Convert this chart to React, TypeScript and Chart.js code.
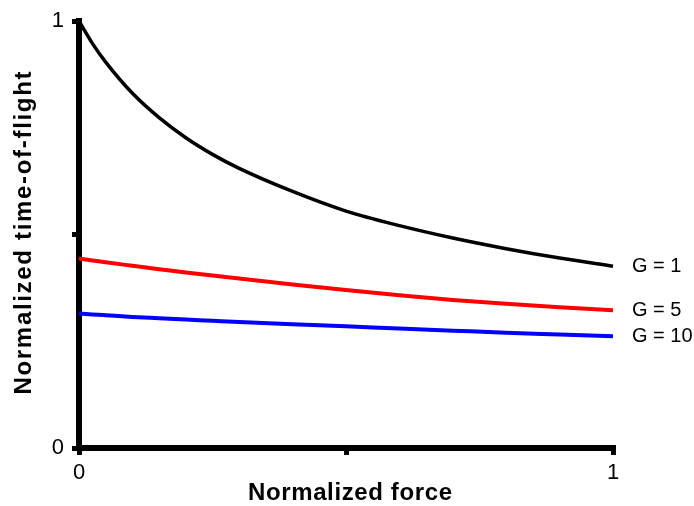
import React, { useEffect, useRef } from "react";
import { Chart, registerables } from "chart.js";

Chart.register(...registerables);

const xValues = [0, 0.025, 0.05, 0.1, 0.15, 0.2, 0.25, 0.3, 0.4, 0.5, 0.6, 0.7, 0.8, 0.9, 1.0];
const g1Values = [1.0, 0.948, 0.904, 0.831, 0.774, 0.727, 0.688, 0.655, 0.601, 0.555, 0.521, 0.492, 0.467, 0.445, 0.426];
const g5Values = [0.444, 0.4395, 0.435, 0.427, 0.419, 0.411, 0.404, 0.397, 0.383, 0.37, 0.358, 0.347, 0.338, 0.33, 0.323];
const g10Values = [0.315, 0.313, 0.311, 0.307, 0.304, 0.301, 0.298, 0.295, 0.29, 0.285, 0.28, 0.275, 0.27, 0.266, 0.262];
const seriesLabels = ["G = 1", "G = 5", "G = 10"];
const seriesColors = ["#000000", "#ff0000", "#0000ff"];
const tickLabels: Record<string, string> = { "0": "0", "1": "1" };
const xTitle = "Normalized force";
const yTitle = "Normalized time-of-flight";

const toPoints = (ys: number[]) => ys.map((y, i) => ({ x: xValues[i], y }));

const labelPlugin = {
  id: "labelPlugin",
  afterDraw(chart: any) {
    const ctx = chart.ctx;
    ctx.save();
    ctx.fillStyle = "#000";
    ctx.font = "20px Arial, 'Liberation Sans', sans-serif";
    ctx.textBaseline = "middle";
    ctx.textAlign = "left";
    chart.data.datasets.forEach((ds: any, i: number) => {
      const meta = chart.getDatasetMeta(i);
      const pt = meta.data[meta.data.length - 1];
      ctx.fillText(ds.label, pt.x + 19, pt.y);
    });

    const drawSpaced = (text: string, cx: number, cy: number, target: number, rot: number) => {
      ctx.save();
      ctx.font = "bold 24px Arial, 'Liberation Sans', sans-serif";
      (ctx as any).letterSpacing = "0px";
      const natural = ctx.measureText(text).width;
      const sp = Math.max(0, (target - natural) / (text.length - 1));
      (ctx as any).letterSpacing = sp + "px";
      ctx.translate(cx, cy);
      ctx.rotate(rot);
      ctx.textAlign = "left";
      ctx.textBaseline = "middle";
      ctx.fillText(text, -target / 2, 0);
      ctx.restore();
    };
    drawSpaced(xTitle, 350, 493, 204, 0);
    drawSpaced(yTitle, 24, 233, 323, -Math.PI / 2);
    ctx.restore();
  },
};

export default function App() {
  const ref = useRef<HTMLCanvasElement>(null);
  useEffect(() => {
    if (!ref.current) return;
    const font = { family: "Arial, 'Liberation Sans', sans-serif", size: 22 };
    const chart = new Chart(ref.current, {
      type: "line",
      data: {
        datasets: [g1Values, g5Values, g10Values].map((vals, i) => ({
          label: seriesLabels[i],
          data: toPoints(vals),
          borderColor: seriesColors[i],
          backgroundColor: seriesColors[i],
          borderWidth: i === 0 ? 3.5 : 4,
          pointRadius: 0,
          cubicInterpolationMode: "monotone" as const,
          fill: false,
          clip: false as any,
        })),
      },
      options: {
        responsive: false,
        animation: false,
        devicePixelRatio: 1,
        layout: { padding: { left: 0, top: 19, right: 81, bottom: 0 } },
        plugins: { legend: { display: false }, tooltip: { enabled: false } },
        scales: {
          x: {
            type: "linear",
            min: 0,
            max: 1,
            afterFit: (s: any) => { s.height = 58; },
            border: { color: "#000", width: 6 },
            grid: { drawOnChartArea: false, color: "#000", lineWidth: 5, tickLength: 7 },
            ticks: {
              stepSize: 0.5,
              color: "#000",
              font,
              padding: 5,
              maxRotation: 0,
              callback: (v: any) => tickLabels[String(v)] ?? "",
            },
          },
          y: {
            type: "linear",
            min: 0,
            max: 1,
            afterFit: (s: any) => { s.width = 79; },
            border: { color: "#000", width: 6 },
            grid: { drawOnChartArea: false, color: "#000", lineWidth: 5, tickLength: 7 },
            ticks: {
              stepSize: 0.5,
              color: "#000",
              font,
              padding: 8,
              callback: (v: any) => tickLabels[String(v)] ?? "",
            },
          },
        },
      },
      plugins: [labelPlugin],
    });
    return () => chart.destroy();
  }, []);
  return (
    <div style={{ position: "fixed", left: 0, top: 0, width: 694, height: 506, background: "#fff" }}>
      <canvas ref={ref} width={694} height={506} style={{ width: 694, height: 506 }} />
    </div>
  );
}
